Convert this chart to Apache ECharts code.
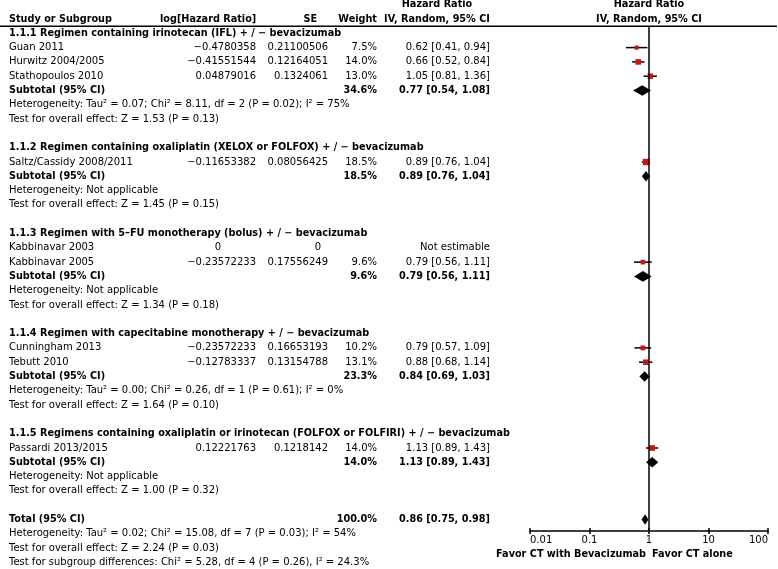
<!DOCTYPE html>
<html><head><meta charset="utf-8">
<script src="https://cdn.jsdelivr.net/npm/echarts@6/dist/echarts.min.js"></script>
<style>html,body{margin:0;padding:0;background:#fff}#c{width:778px;height:569px}</style>
</head><body><div id="c"></div>
<script>
// ---------------- data ----------------
const studyNames = ['Guan 2011','Hurwitz 2004/2005','Stathopoulos 2010','Saltz/Cassidy 2008/2011','Kabbinavar 2003','Kabbinavar 2005','Cunningham 2013','Tebutt 2010','Passardi 2013/2015'];
const studyGroup = [0,0,0,1,2,2,3,3,4];
const studyLogHR = ['\u22120.4780358','\u22120.41551544','0.04879016','\u22120.11653382','0','\u22120.23572233','\u22120.23572233','\u22120.12783337','0.12221763'];
const studySE = ['0.21100506','0.12164051','0.1324061','0.08056425','0','0.17556249','0.16653193','0.13154788','0.1218142'];
const studyWeight = [7.5,14.0,13.0,18.5,null,9.6,10.2,13.1,14.0];
const studyHR = [0.62,0.66,1.05,0.89,null,0.79,0.79,0.88,1.13];
const studyLo = [0.41,0.52,0.81,0.76,null,0.56,0.57,0.68,0.89];
const studyHi = [0.94,0.84,1.36,1.04,null,1.11,1.09,1.14,1.43];

const groupTitles = [
  '1.1.1 Regimen containing irinotecan (IFL) + / \u2212 bevacizumab',
  '1.1.2 Regimen containing oxaliplatin (XELOX or FOLFOX) + / \u2212 bevacizumab',
  '1.1.3 Regimen with 5\u2013FU monotherapy (bolus) + / \u2212 bevacizumab',
  '1.1.4 Regimen with capecitabine monotherapy + / \u2212 bevacizumab',
  '1.1.5 Regimens containing oxaliplatin or irinotecan (FOLFOX or FOLFIRI) + / \u2212 bevacizumab'
];
const groupWeight = [34.6,18.5,9.6,23.3,14.0];
const groupHR = [0.77,0.89,0.79,0.84,1.13];
const groupLo = [0.54,0.76,0.56,0.69,0.89];
const groupHi = [1.08,1.04,1.11,1.03,1.43];
const groupHet = [
  'Heterogeneity: Tau\u00b2 = 0.07; Chi\u00b2 = 8.11, df = 2 (P = 0.02); I\u00b2 = 75%',
  'Heterogeneity: Not applicable',
  'Heterogeneity: Not applicable',
  'Heterogeneity: Tau\u00b2 = 0.00; Chi\u00b2 = 0.26, df = 1 (P = 0.61); I\u00b2 = 0%',
  'Heterogeneity: Not applicable'
];
const groupTest = [
  'Test for overall effect: Z = 1.53 (P = 0.13)',
  'Test for overall effect: Z = 1.45 (P = 0.15)',
  'Test for overall effect: Z = 1.34 (P = 0.18)',
  'Test for overall effect: Z = 1.64 (P = 0.10)',
  'Test for overall effect: Z = 1.00 (P = 0.32)'
];
const totalWeight = 100.0;
const totalHR = 0.86, totalLo = 0.75, totalHi = 0.98;
const totalNotes = [
  'Heterogeneity: Tau\u00b2 = 0.02; Chi\u00b2 = 15.08, df = 7 (P = 0.03); I\u00b2 = 54%',
  'Test for overall effect: Z = 2.24 (P = 0.03)',
  'Test for subgroup differences: Chi\u00b2 = 5.28, df = 4 (P = 0.26), I\u00b2 = 24.3%'
];
const tickValues = [0.01,0.1,1,10,100];
const tickLabels = ['0.01','0.1','1','10','100'];
const favorLeft = 'Favor CT with Bevacizumab';
const favorRight = 'Favor CT alone';

// ---------------- layout ----------------
const W = 778, H = 569;
const Y0 = 33.3, RH = 14.3;           // pixel of row 0, pixels per row
const PLOT_L = 530, PLOT_R = 10, PLOT_T = 27, PLOT_B = 531;
const COL = {name: 9, logHR: 256, logHRzero: 218, se: 328, seZero: 318, weight: 377, ci: 490, ciHead: 437, lhHead: 160, seHead: 317};
const FONT = 'DejaVu Sans';
const FS = 10, FSB = 9.7;
const RED = '#c81414';

// ---------------- build rows ----------------
const rows = [];
let r = 0;
for (let g = 0; g < groupTitles.length; g++) {
  rows.push({r: r++, kind: 'title', text: groupTitles[g]});
  for (let i = 0; i < studyNames.length; i++) {
    if (studyGroup[i] === g) rows.push({r: r++, kind: 'study', i});
  }
  rows.push({r: r++, kind: 'subtotal', g});
  rows.push({r: r++, kind: 'note', text: groupHet[g]});
  rows.push({r: r++, kind: 'note', text: groupTest[g]});
  r++; // blank
}
rows.push({r: r++, kind: 'total'});
totalNotes.forEach(t => rows.push({r: r++, kind: 'note', text: t}));

const ci = (h, l, u) => h.toFixed(2) + ' [' + l.toFixed(2) + ', ' + u.toFixed(2) + ']';

const squareData = [], diamondData = [];
rows.forEach(row => {
  if (row.kind === 'study' && studyHR[row.i] != null)
    squareData.push([row.r, studyHR[row.i], studyLo[row.i], studyHi[row.i], studyWeight[row.i]]);
  if (row.kind === 'subtotal')
    diamondData.push([row.r, groupHR[row.g], groupLo[row.g], groupHi[row.g]]);
  if (row.kind === 'total')
    diamondData.push([row.r, totalHR, totalLo, totalHi]);
});

function txt(x, y, s, align, bold) {
  return {type: 'text', silent: true, style: {
    x: x, y: y, text: s, fill: '#000', align: align || 'left', verticalAlign: 'middle',
    fontFamily: FONT, fontSize: bold ? FSB : FS, fontWeight: bold ? 'bold' : 'normal'
  }};
}

function renderTable(params, api) {
  const idx = api.value(1);
  const y = api.coord([0, api.value(0)])[1];
  const kids = [];
  if (idx < 0) {
    const y1 = api.coord([0, -2])[1], y2 = api.coord([0, -1])[1];
    kids.push(txt(COL.name, y2, 'Study or Subgroup', 'left', true));
    kids.push(txt(COL.lhHead, y2, 'log[Hazard Ratio]', 'left', true));
    kids.push(txt(COL.seHead, y2, 'SE', 'right', true));
    kids.push(txt(COL.weight, y2, 'Weight', 'right', true));
    kids.push(txt(COL.ciHead, y1, 'Hazard Ratio', 'center', true));
    kids.push(txt(COL.ciHead, y2, 'IV, Random, 95% CI', 'center', true));
    const yl = api.coord([0, -0.5])[1];
    kids.push({type: 'line', silent: true, shape: {x1: 0, y1: yl, x2: W - 1, y2: yl}, style: {stroke: '#000', lineWidth: 1.5}});
    return {type: 'group', children: kids};
  }
  const row = rows[idx];
  if (row.kind === 'title') kids.push(txt(COL.name, y, row.text, 'left', true));
  else if (row.kind === 'note') kids.push(txt(COL.name, y, row.text, 'left', false));
  else if (row.kind === 'study') {
    const i = row.i;
    kids.push(txt(COL.name, y, studyNames[i], 'left', false));
    if (studyLogHR[i] === '0') kids.push(txt(COL.logHRzero, y, '0', 'center', false));
    else kids.push(txt(COL.logHR, y, studyLogHR[i], 'right', false));
    if (studySE[i] === '0') kids.push(txt(COL.seZero, y, '0', 'center', false));
    else kids.push(txt(COL.se, y, studySE[i], 'right', false));
    if (studyWeight[i] != null) {
      kids.push(txt(COL.weight, y, studyWeight[i].toFixed(1) + '%', 'right', false));
      kids.push(txt(COL.ci, y, ci(studyHR[i], studyLo[i], studyHi[i]), 'right', false));
    } else {
      kids.push(txt(COL.ci, y, 'Not estimable', 'right', false));
    }
  } else if (row.kind === 'subtotal') {
    const g = row.g;
    kids.push(txt(COL.name, y, 'Subtotal (95% CI)', 'left', true));
    kids.push(txt(COL.weight, y, groupWeight[g].toFixed(1) + '%', 'right', true));
    kids.push(txt(COL.ci, y, ci(groupHR[g], groupLo[g], groupHi[g]), 'right', true));
  } else if (row.kind === 'total') {
    kids.push(txt(COL.name, y, 'Total (95% CI)', 'left', true));
    kids.push(txt(COL.weight, y, totalWeight.toFixed(1) + '%', 'right', true));
    kids.push(txt(COL.ci, y, ci(totalHR, totalLo, totalHi), 'right', true));
  }
  return {type: 'group', children: kids};
}

function renderSquare(params, api) {
  const row = api.value(0);
  const p = api.coord([api.value(1), row]);
  const a = api.coord([api.value(2), row]);
  const b = api.coord([api.value(3), row]);
  const s = 1.5 * Math.sqrt(api.value(4));
  return {type: 'group', children: [
    {type: 'line', shape: {x1: a[0], y1: a[1], x2: b[0], y2: b[1]}, style: {stroke: '#000', lineWidth: 1.5}},
    {type: 'rect', shape: {x: p[0] - s / 2, y: p[1] - s / 2, width: s, height: s}, style: {fill: RED}}
  ]};
}

function renderDiamond(params, api) {
  const row = api.value(0);
  const p = api.coord([api.value(1), row]);
  const a = api.coord([api.value(2), row]);
  const b = api.coord([api.value(3), row]);
  const h = 5.3;
  return {type: 'polygon', shape: {points: [[a[0], p[1]], [p[0], p[1] - h], [b[0], p[1]], [p[0], p[1] + h]]}, style: {fill: '#000'}};
}

function renderForestHead(params, api) {
  const y1 = api.coord([1, -2]), y2 = api.coord([1, -1]);
  const ax = api.coord([1, (PLOT_B - Y0) / RH]);
  return {type: 'group', children: [
    txt(y1[0], y1[1], 'Hazard Ratio', 'center', true),
    txt(y2[0], y2[1], 'IV, Random, 95% CI', 'center', true),
    txt(ax[0] - 3, ax[1] + 23, favorLeft, 'right', true),
    txt(ax[0] + 3, ax[1] + 23, favorRight, 'left', true)
  ]};
}

const tableData = [[0, -1]].concat(rows.map((row, k) => [row.r, k]));

const labelFor = v => { let best = 0; tickValues.forEach((t, k) => { if (Math.abs(Math.log10(t) - Math.log10(v)) < Math.abs(Math.log10(tickValues[best]) - Math.log10(v))) best = k; }); return tickLabels[best]; };

const chart = echarts.init(document.getElementById('c'), null, {renderer: 'canvas'});
chart.setOption({
  animation: false,
  backgroundColor: '#fff',
  grid: [
    {left: PLOT_L, right: PLOT_R, top: PLOT_T, bottom: H - PLOT_B},
    {left: 0, right: 0, top: 0, bottom: 0}
  ],
  xAxis: [
    {type: 'log', logBase: 10, gridIndex: 0, min: tickValues[0], max: tickValues[tickValues.length - 1], interval: 1,
     position: 'bottom',
     axisLine: {show: true, onZero: false, lineStyle: {color: '#000', width: 1.5}},
     axisTick: {show: true, length: 3, lineStyle: {color: '#000', width: 1.5}},
     axisLabel: {show: true, margin: 4, color: '#000', fontFamily: FONT, fontSize: FS, formatter: labelFor,
       alignMinLabel: 'left', alignMaxLabel: 'right'},
     splitLine: {show: false}},
    {type: 'log', logBase: 10, gridIndex: 0, min: tickValues[0], max: tickValues[tickValues.length - 1], interval: 1,
     position: 'bottom',
     axisLine: {show: false, onZero: false},
     axisTick: {show: true, inside: true, length: 3, lineStyle: {color: '#000', width: 1.5}},
     axisLabel: {show: false}, splitLine: {show: false}},
    {type: 'value', gridIndex: 1, min: 0, max: W, show: false}
  ],
  yAxis: [
    {type: 'value', gridIndex: 0, inverse: true, min: (PLOT_T - Y0) / RH, max: (PLOT_B - Y0) / RH, show: false},
    {type: 'value', gridIndex: 1, inverse: true, min: -Y0 / RH, max: (H - Y0) / RH, show: false}
  ],
  series: [
    {type: 'custom', xAxisIndex: 2, yAxisIndex: 1, clip: false, silent: true, renderItem: renderTable, data: tableData},
    {type: 'custom', xAxisIndex: 0, yAxisIndex: 0, clip: false, silent: true, renderItem: renderForestHead, data: [[1]],
     markLine: {silent: true, symbol: ['none', 'none'], label: {show: false}, lineStyle: {color: '#000', width: 1.5, type: 'solid'},
       data: [{xAxis: 1}]}},
    {type: 'custom', xAxisIndex: 0, yAxisIndex: 0, clip: false, silent: true, renderItem: renderSquare, data: squareData, z: 3},
    {type: 'custom', xAxisIndex: 0, yAxisIndex: 0, clip: false, silent: true, renderItem: renderDiamond, data: diamondData, z: 3}
  ]
});
</script></body></html>
